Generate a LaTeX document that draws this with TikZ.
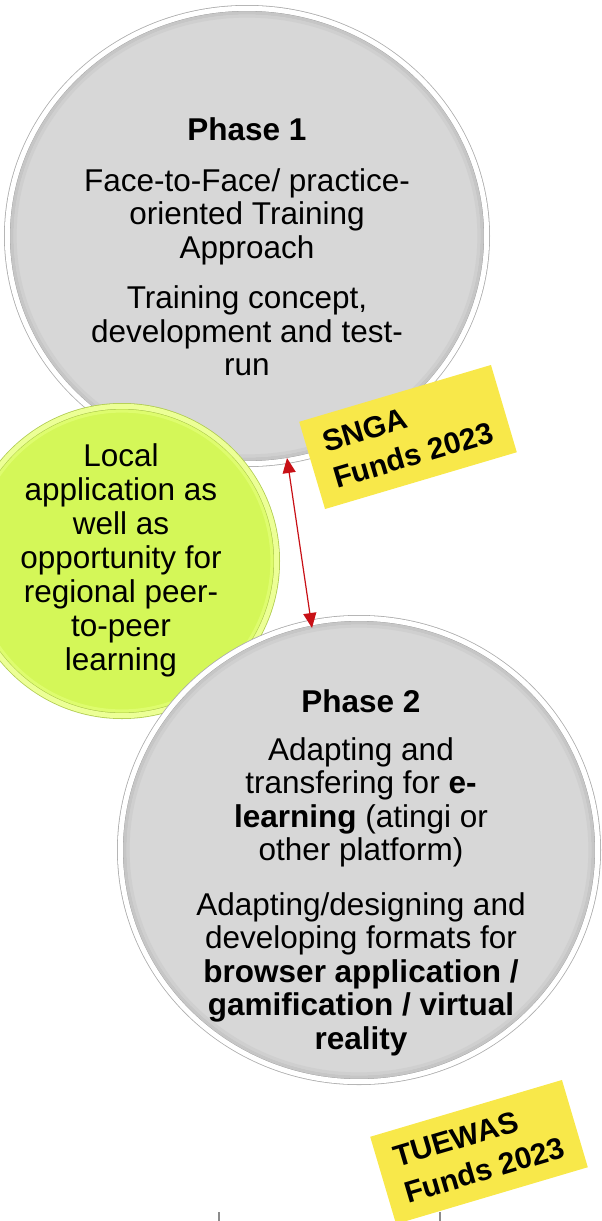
\documentclass[tikz,border=0pt]{standalone}
\usepackage{fontspec}
\setmainfont{Liberation Sans}
\usetikzlibrary{shapes.geometric,arrows.meta}
\definecolor{discgray}{RGB}{215,215,215}
\definecolor{rimgray}{RGB}{172,172,172}
\definecolor{shadeA}{RGB}{198,198,198}
\definecolor{shadeB}{RGB}{207,207,207}
\definecolor{discgreen}{RGB}{212,247,88}
\definecolor{rimgreen}{RGB}{176,204,80}
\definecolor{bandgreen}{RGB}{236,255,150}
\definecolor{shadeG}{RGB}{222,252,110}
\definecolor{tagyellow}{RGB}{248,232,74}
\definecolor{arrowred}{RGB}{200,16,22}
\definecolor{tickgray}{RGB}{140,140,140}
\begin{document}
\begin{tikzpicture}[x=1pt,y=-1pt,
  disc/.style={ellipse, inner sep=0pt, outer sep=0pt, line width=0.8pt, double distance=5pt},
  graydisc/.style={disc, draw=rimgray, double=white, fill=discgray},
  greendisc/.style={disc, draw=rimgreen, double=bandgreen, fill=discgreen},
  ring/.style={ellipse, inner sep=0pt, outer sep=0pt, line width=3pt},
  body/.style={align=center, font=\fontsize{31.5}{33.5}\selectfont, inner sep=0pt},
  tag/.style={fill=tagyellow, rotate=16.5, minimum width=200pt, minimum height=91pt,
    align=left, inner sep=0pt, font=\fontsize{30}{38}\selectfont\bfseries},
  link/.style={arrowred, line width=1.2pt,
    {Triangle[length=15pt,width=13pt]}-{Triangle[length=15pt,width=13pt]}},
  tick/.style={tickgray, line width=1.5pt}]
\useasboundingbox (0,0) rectangle (602,1221);
\clip (0,0) rectangle (602,1221);
% Phase 1
\node[graydisc, minimum width=479.4pt, minimum height=455.4pt] (p1) at (247,236) {};
\node[ring, draw=shadeA, minimum width=469.8pt, minimum height=445.8pt] (p1r) at (p1.center) {};
\node[ring, draw=shadeB, minimum width=463.8pt, minimum height=439.8pt] (p1s) at (p1.center) {};
\node[body] (t1) at (247,247) {\textbf{Phase 1}\\[17pt]
  Face-to-Face/ practice-\\oriented Training\\Approach\\[17pt]
  Training concept,\\development and test-\\run};
\node[tag] (s1) at (408,437) {SNGA\\Funds 2023};
% local
\node[greendisc, minimum width=309.4pt, minimum height=309.4pt] (g) at (122,561) {};
\node[ring, draw=shadeG, minimum width=299.8pt, minimum height=299.8pt] (gr) at (g.center) {};
\node[body, font=\fontsize{31.5}{34}\selectfont] (t3) at (121,560)
  {Local\\application as\\well as\\opportunity for\\regional peer-\\to-peer\\learning};
% Phase 2
\node[graydisc, minimum width=477.4pt, minimum height=463.4pt] (p2) at (359,850) {};
\node[ring, draw=shadeA, minimum width=467.8pt, minimum height=453.8pt] (p2r) at (p2.center) {};
\node[ring, draw=shadeB, minimum width=461.8pt, minimum height=447.8pt] (p2s) at (p2.center) {};
\node[body] (t2) at (361,873) {\textbf{Phase 2}\\[14pt]
  Adapting and\\transfering for \textbf{e-}\\\textbf{learning} (atingi or\\other platform)\\[21pt]
  Adapting/designing and\\developing formats for\\\textbf{browser application /}\\
  \textbf{gamification / virtual}\\\textbf{reality}};
\node[tag] (s2) at (479,1152) {TUEWAS\\Funds 2023};
% connector
\coordinate (a1) at (287,458);
\coordinate (a2) at (312,628);
\draw[link] (a1) -- (a2);
% bottom ticks
\coordinate (k1) at (219,1212);
\coordinate (k1e) at (219,1222);
\coordinate (k2) at (440,1212);
\coordinate (k2e) at (440,1222);
\draw[tick] (k1) -- (k1e);
\draw[tick] (k2) -- (k2e);
\end{tikzpicture}
\end{document}
